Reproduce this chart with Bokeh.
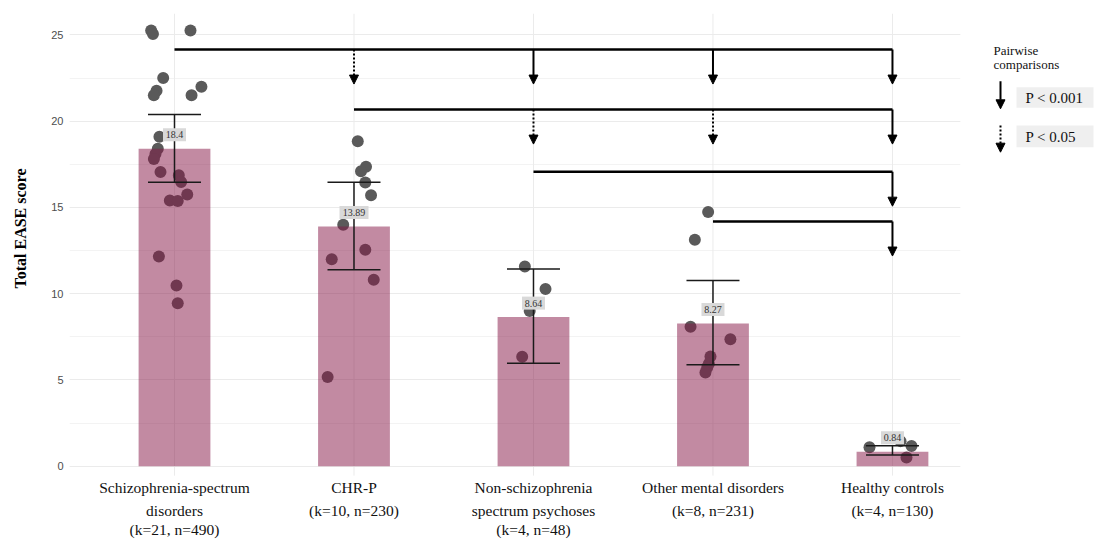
import math
from bokeh.plotting import figure
from bokeh.models import (ColumnDataSource, SingleIntervalTicker, Range1d, Arrow, NormalHead)
from bokeh.layouts import row
from bokeh.embed import file_html
from bokeh.resources import INLINE

# ---------------- data ----------------
groups = [1, 2, 3, 4, 5]
group_labels = [
    "Schizophrenia-spectrum\ndisorders\n(k=21, n=490)",
    "CHR-P\n(k=10, n=230)",
    "Non-schizophrenia\nspectrum psychoses\n(k=4, n=48)",
    "Other mental disorders\n(k=8, n=231)",
    "Healthy controls\n(k=4, n=130)",
]
means = [18.4, 13.89, 8.64, 8.27, 0.84]
mean_text = ["18.4", "13.89", "8.64", "8.27", "0.84"]
ci_low = [16.46, 11.38, 5.96, 5.88, 0.65]
ci_high = [20.38, 16.46, 11.43, 10.76, 1.18]

# individual study scores (group index, horizontal jitter, value)
pt_group = ([1] * 21) + ([2] * 10) + ([3] * 4) + ([4] * 8) + ([5] * 4)
pt_jitter = [
    -0.13, -0.12, 0.089, -0.063, -0.10, -0.115, 0.15, 0.095, -0.084, -0.093, -0.106,
    -0.115, -0.078, 0.024, 0.037, 0.071, -0.026, 0.018, -0.087, 0.011, 0.018,
    0.021, 0.067, 0.039, 0.063, 0.095, -0.06, 0.063, -0.124, 0.11, -0.147,
    -0.048, 0.067, -0.021, -0.063,
    -0.027, -0.101, -0.125, 0.097, -0.014, -0.023, -0.032, -0.042,
    -0.128, 0.045, 0.106, 0.078,
]
pt_value = [
    25.25, 25.05, 25.25, 22.5, 21.76, 21.5, 22.0, 21.5, 19.1, 18.4, 18.1,
    17.8, 17.05, 16.86, 16.47, 15.75, 15.4, 15.37, 12.15, 10.47, 9.44,
    18.84, 17.35, 17.1, 16.44, 15.7, 14.0, 12.54, 12.0, 10.8, 5.17,
    11.57, 10.27, 9.0, 6.34,
    14.73, 13.12, 8.08, 7.36, 6.35, 5.93, 5.72, 5.43,
    1.1, 1.45, 1.17, 0.50,
]

# pairwise comparisons
comp_from = [1, 1, 1, 1, 2, 2, 2, 3, 4]
comp_to = [2, 3, 4, 5, 3, 4, 5, 5, 5]
comp_sig = ["p05", "p001", "p001", "p001", "p05", "p05", "p001", "p001", "p001"]
bracket_level = {1: 24.15, 2: 20.67, 3: 17.07, 4: 14.18}
drop = 2.0

y_ticks = [0, 5, 10, 15, 20, 25]

# ---------------- layout constants ----------------
H = 539
TOP = 13
PX_PER_UNIT = 17.25          # vertical pixels per score unit
Y_TOP = 26.24
Y_BOTTOM = Y_TOP - (H - TOP) / PX_PER_UNIT
GRID_BOTTOM = -0.55
X_START, X_END = 0.415, 5.379
TITLE_W = 48
LEGEND_W = 116
MAIN_W = 1094 - TITLE_W - LEGEND_W

def common(fig):
    fig.outline_line_color = None
    fig.background_fill_color = "white"
    fig.border_fill_color = "white"

# ---------------- main figure ----------------
p = figure(width=MAIN_W, height=H, output_backend="svg", toolbar_location=None,
           x_range=Range1d(X_START, X_END), y_range=Range1d(Y_BOTTOM, Y_TOP),
           min_border_left=19, min_border_right=18, min_border_top=TOP, min_border_bottom=0)
common(p)
p.xaxis.visible = False
p.xgrid.visible = False

p.yaxis.ticker = SingleIntervalTicker(interval=5, num_minor_ticks=2)
p.yaxis.bounds = (min(y_ticks), max(y_ticks))
p.ygrid.bounds = (min(y_ticks), Y_TOP)
p.ygrid.grid_line_color = "#ebebeb"
p.ygrid.minor_grid_line_color = "#f3f3f3"
p.yaxis.axis_line_color = None
p.yaxis.major_tick_line_color = None
p.yaxis.minor_tick_line_color = None
p.yaxis.major_tick_out = 0
p.yaxis.minor_tick_out = 0
p.yaxis.major_label_text_font = "Liberation Sans"
p.yaxis.major_label_text_font_size = "11px"
p.yaxis.major_label_text_color = "#4d4d4d"
p.yaxis.major_label_standoff = 6

# vertical category grid lines
p.segment(x0=groups, x1=groups, y0=[GRID_BOTTOM] * len(groups), y1=[Y_TOP] * len(groups),
          line_color="#ebebeb", line_width=1)

# category labels (multi-line, below the zero line)
line_px = [21, 44, 63]
lx, ly, lt = [], [], []
for g, lab in zip(groups, group_labels):
    for i, part in enumerate(lab.split("\n")):
        lx.append(g)
        ly.append(-line_px[i] / PX_PER_UNIT)
        lt.append(part)
p.text(x=lx, y=ly, text=lt, text_font="Liberation Serif", text_font_size="15.5px",
       text_color="#111111", text_align="center", text_baseline="middle")

# points (under the bars)
pts = ColumnDataSource(dict(x=[g + j for g, j in zip(pt_group, pt_jitter)], y=pt_value))
p.scatter("x", "y", source=pts, size=12, fill_color="#5a5a5a", line_color=None)

# bars
bars = ColumnDataSource(dict(x=groups, top=means, lo=ci_low, hi=ci_high, txt=mean_text,
                             ly=[m + 14 / PX_PER_UNIT for m in means],
                             bw=[6 * len(t) - 1 for t in mean_text]))
p.vbar(x="x", top="top", width=0.4, source=bars, fill_color="#851545", fill_alpha=0.5,
       line_color=None)

# error bars
p.segment(x0="x", x1="x", y0="lo", y1="hi", source=bars, line_color="#1a1a1a", line_width=1.5)
p.dash(x="x", y="lo", source=bars, size=53, line_color="#1a1a1a", line_width=1.5)
p.dash(x="x", y="hi", source=bars, size=53, line_color="#1a1a1a", line_width=1.5)

# mean labels
p.rect(x="x", y="ly", width="bw", height=13, width_units="screen", height_units="screen",
       source=bars, fill_color="#d9d9d9", line_color=None)
p.text(x="x", y="ly", text="txt", source=bars, text_font="Liberation Sans",
       text_font_size="10px", text_color="#333333", text_align="center",
       text_baseline="middle")

# comparison brackets
src_groups = sorted(bracket_level.keys())
p.segment(x0=src_groups, x1=[max(groups)] * len(src_groups),
          y0=[bracket_level[g] for g in src_groups],
          y1=[bracket_level[g] for g in src_groups],
          line_color="black", line_width=2.5)

for sig, dash in (("p001", "solid"), ("p05", "2 2")):
    xs = [t for t, s in zip(comp_to, comp_sig) if s == sig]
    ys = [bracket_level[f] for f, s in zip(comp_from, comp_sig) if s == sig]
    src = ColumnDataSource(dict(x=xs, y0=ys, y1=[y - drop for y in ys]))
    p.add_layout(Arrow(end=NormalHead(size=9, fill_color="black", line_color="black",
                                      line_width=1),
                       x_start="x", y_start="y0", x_end="x", y_end="y1", source=src,
                       line_color="black", line_width=2, line_dash=dash))

# ---------------- y-axis title panel (page coordinates, y = -page_y) ----------------
t = figure(width=TITLE_W, height=H, output_backend="svg", toolbar_location=None,
           x_range=Range1d(0, TITLE_W), y_range=Range1d(-H, -TOP),
           min_border_left=0, min_border_right=0, min_border_top=TOP, min_border_bottom=0)
common(t)
t.axis.visible = False
t.grid.visible = False
t.text(x=[20], y=[-228], text=["Total EASE score"], angle=math.pi / 2,
       text_font="Liberation Serif", text_font_style="bold", text_font_size="16px",
       text_color="black", text_align="center", text_baseline="middle")

# ---------------- legend panel (page coordinates, y = -page_y) ----------------
lg = figure(width=LEGEND_W, height=H, output_backend="svg", toolbar_location=None,
            x_range=Range1d(1094 - LEGEND_W, 1094), y_range=Range1d(-H, -TOP),
            min_border_left=0, min_border_right=0, min_border_top=TOP, min_border_bottom=0)
common(lg)
lg.axis.visible = False
lg.grid.visible = False

lg.text(x=[993, 993], y=[-50, -63.5], text=["Pairwise", "comparisons"],
        text_font="Liberation Serif", text_font_size="13px", text_color="#111111",
        text_baseline="middle", text_align="left")
lg.quad(left=[1016, 1016], right=[1093, 1093], top=[-86.7, -125], bottom=[-107.3, -146.7],
        fill_color="#efefef", line_color=None)
lg.text(x=[1025, 1025], y=[-97, -136], text=["P < 0.001", "P < 0.05"],
        text_font="Liberation Serif", text_font_size="15px", text_color="#111111",
        text_baseline="middle", text_align="left")
lg.add_layout(Arrow(end=NormalHead(size=9, fill_color="black", line_color="black", line_width=1),
                    x_start=1000, y_start=-80.7, x_end=1000, y_end=-108.3,
                    line_color="black", line_width=2))
lg.add_layout(Arrow(end=NormalHead(size=9, fill_color="black", line_color="black", line_width=1),
                    x_start=1000, y_start=-125, x_end=1000, y_end=-151.7,
                    line_color="black", line_width=2, line_dash="2 2"))

layout = row(t, p, lg)
open("out.html", "w").write(file_html(layout, INLINE))
